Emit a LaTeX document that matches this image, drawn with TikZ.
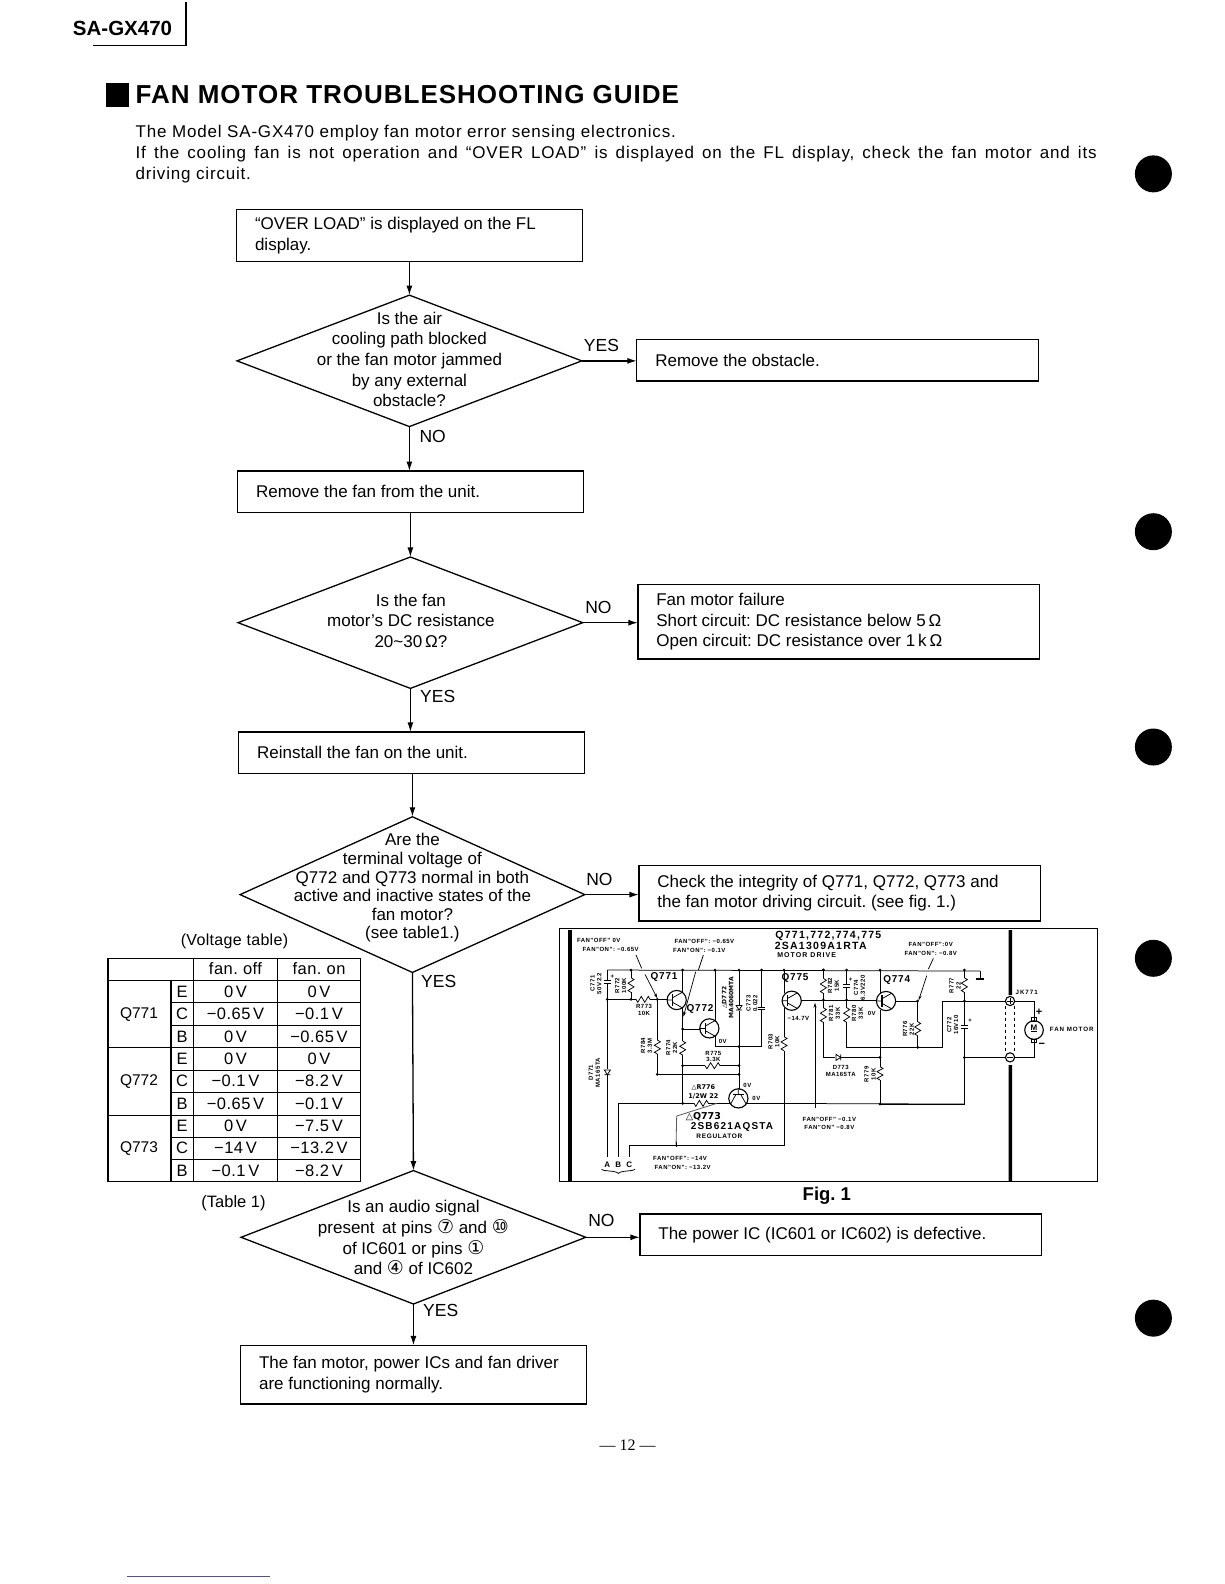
\documentclass[tikz,border=0pt]{standalone}
\usepackage{fontspec}
\setmainfont{Liberation Sans}
\newfontfamily\djv{DejaVu Sans}
\newfontfamily\srf{Liberation Serif}
\usetikzlibrary{shapes.geometric,arrows.meta}
\newcount\labn
\def\ksc{1.0108}
\frenchspacing
\newcommand\circd[1]{{\djv\fontsize{19}{20.7}\selectfont #1}}
\tikzset{
 flowbox/.style={draw,line width=1.3pt,rectangle,inner ysep=0pt,inner xsep=18.5pt,outer sep=0pt,align=left,anchor=north west,font=\fontsize{17}{20.7}\selectfont},
 flowdia/.style={draw,line width=1.3pt,diamond,aspect=2,inner sep=0pt,outer sep=0pt},
 flowtxt/.style={align=center,inner sep=0pt,font=\fontsize{17}{20.7}\selectfont},
 flowarr/.style={line width=1.3pt,-{Latex[length=9.5pt,width=6pt]}},
 lbl/.style={inner sep=0pt,font=\fontsize{17.5}{20}\selectfont},
 cell/.style={inner sep=0pt,font=\addfontfeature{LetterSpace=3}\fontsize{16.5}{20}\selectfont},
 tline/.style={line width=1.1pt},
 wire/.style={line width=.75pt},
 sk/.style={inner sep=0pt,align=center,font=\bfseries\addfontfeature{LetterSpace=8}\fontsize{6}{6.8}\selectfont},
 skb/.style={inner sep=0pt,align=center,font=\bfseries\addfontfeature{LetterSpace=8}\fontsize{10}{11}\selectfont},
 ptr/.style={line width=.7pt,-{Stealth[length=5pt,width=3pt]}},
}
\newcommand\FBox[6]{%
 \pgfmathsetmacro\mw{(#4-#2)*\ksc}\pgfmathsetmacro\mh{(#5-#3)*\ksc}\pgfmathsetmacro\tw{(#4-#2)*\ksc-37}%
 \node[flowbox,minimum width=\mw pt,minimum height=\mh pt,text width=\tw pt] (#1) at (#2,#3) {\spaceskip=4.75pt\relax #6};}
\newcommand\FDia[5]{%
 \pgfmathsetmacro\mw{#4*\ksc}\pgfmathsetmacro\mh{#5*\ksc}%
 \node[flowdia,minimum width=\mw pt,minimum height=\mh pt] (#1) at (#2,#3) {};}
\newcommand\sklab[4][sk]{\global\advance\labn by 1 \node[#1] (lab\the\labn) at (#2,#3) {#4};}
\newcommand\resV[3]{\pgfmathsetmacro\dd{(#3-#2)/8}\fill[white] (#1-9,#2) rectangle (#1+9,#3);
 \draw[wire] (#1,#2) -- ++(9,\dd) -- ++(-18,2*\dd) -- ++(18,2*\dd) -- ++(-18,2*\dd) -- ++(9,\dd);}
\newcommand\resH[3]{\pgfmathsetmacro\dd{(#3-#2)/8}\fill[white] (#2,#1-9) rectangle (#3,#1+9);
 \draw[wire] (#2,#1) -- ++(\dd,9) -- ++(2*\dd,-18) -- ++(2*\dd,18) -- ++(2*\dd,-18) -- ++(\dd,9);}
\newcommand\trans[3]{\begin{scope}[shift={(#1,#2)},rotate=#3]
 \fill[white] (0,0) circle (9.3pt);
 \draw[line width=1.1pt] (0,0) circle (9.6pt);
 \draw[line width=1.1pt] (-12,-17) -- (-12,17);
 \draw[wire] (-29,0) -- (-12,0) (-12,-7) -- (18,-24) (-12,7) -- (18,24);
 \end{scope}}
\newcommand\diodeV[2]{\fill[white] (#1-8,#2-9) rectangle (#1+8,#2+9);\draw[wire] (#1-9,#2-7) -- (#1+9,#2-7) -- (#1,#2+7) -- cycle (#1-9,#2+7) -- (#1+9,#2+7);}
\newcommand\dotk[2]{\fill (#1,#2) circle (1.5pt);}
\newcommand\capV[2]{\fill[white] (#1-9,#2-4) rectangle (#1+9,#2+4);\draw[wire] (#1-10,#2-4) -- (#1+10,#2-4) (#1-10,#2+4) -- (#1+10,#2+4);}
\begin{document}
\begin{tikzpicture}[x=\ksc pt,y=-\ksc pt]
\useasboundingbox (0,0) rectangle (1211,1567);
\fill[white] (0,0) rectangle (1211,1567);
% header
\node[inner sep=0pt,anchor=west,font=\bfseries\fontsize{20.5}{24}\selectfont] (model) at (72,28) {SA-GX470};
\coordinate (hA) at (92,45); \coordinate (hB) at (184,45); \coordinate (hC) at (184,2);
\draw[line width=1.2pt] (hA) -- (hB) -- (hC);
\fill (105,82) rectangle (128,106);
\node[inner sep=0pt,anchor=west,font=\bfseries\addfontfeature{LetterSpace=3.8}\fontsize{26}{30}\selectfont] (title) at (134,94) {FAN MOTOR TROUBLESHOOTING GUIDE};
\node[inner sep=0pt,anchor=west,font=\addfontfeature{LetterSpace=4.8}\fontsize{17}{20}\selectfont] (p1) at (134,132) {The Model SA-GX470 employ fan motor error sensing electronics.};
\node[inner sep=0pt,anchor=west,font=\addfontfeature{LetterSpace=4.8}\fontsize{17}{20}\selectfont] (p2) at (134,152.5) {\makebox[961pt][s]{If the cooling fan is not operation and “OVER LOAD” is displayed on the FL display, check the fan motor and its}};
\node[inner sep=0pt,anchor=west,font=\addfontfeature{LetterSpace=4.8}\fontsize{17}{20}\selectfont] (p3) at (134,173) {driving circuit.};
\foreach \yy in {172,526,739,948,1304}{\fill (1141,\yy) circle (18.5pt);}
% flow
\FBox{b1}{234}{207}{576}{259}{“OVER LOAD” is displayed on the FL\\display.}
\FDia{d1}{405}{357}{341}{130}
\node[flowtxt] (d1t) at (405,355.5) {Is the air\\cooling path blocked\\or the fan motor jammed\\by any external\\obstacle?};
\FBox{b2}{630}{336}{1027}{377}{Remove the obstacle.}
\FBox{b3}{235}{466}{577}{507}{Remove the fan from the unit.}
\FDia{d2}{406}{616}{341}{130}
\node[flowtxt] (d2t) at (406.5,614) {Is the fan\\motor's DC resistance\\20\textasciitilde30\,Ω?};
\FBox{b4}{631}{578}{1028}{652}{Fan motor failure\\Short circuit: DC resistance below 5\,Ω\\Open circuit: DC resistance over 1\,k\,Ω}
\FBox{b5}{236}{724}{578}{765}{Reinstall the fan on the unit.}
\FDia{d3}{408}{885}{341}{154}
\node[flowtxt,font=\fontsize{17}{18.6}\selectfont] (d3t) at (408,878.5) {Are the\\terminal voltage of\\Q772 and Q773 normal in both\\active and inactive states of the\\fan motor?\\(see table1.)};
\FBox{b6}{632}{856}{1029}{911}{Check the integrity of Q771, Q772, Q773 and\\the fan motor driving circuit. (see fig. 1.)}
\FDia{d4}{409}{1224}{341}{132}
\node[flowtxt] (d4t) at (409,1224.5) {Is an audio signal\\present\, at pins \circd{⑦} and \circd{⑩}\\of IC601 or pins \circd{①}\\and \circd{④} of IC602};
\FBox{b7}{633}{1201}{1030}{1242}{The power IC (IC601 or IC602) is defective.}
\FBox{b8}{238}{1331}{580}{1389}{The fan motor, power ICs and fan driver\\are functioning normally.}
\draw[flowarr] (b1.south -| d1.north) -- (d1.north);
\draw[flowarr] (d1.east) -- (b2.west |- d1.east);
\draw[flowarr] (d1.south) -- (d1.south |- b3.north);
\draw[flowarr] (d2.north |- b3.south) -- (d2.north);
\draw[flowarr] (d2.east) -- (b4.west |- d2.east);
\draw[flowarr] (d2.south) -- (d2.south |- b5.north);
\draw[flowarr] (d3.north |- b5.south) -- (d3.north);
\draw[flowarr] (d3.east) -- (b6.west |- d3.east);
\draw[flowarr] (d3.south) -- (d4.north);
\draw[flowarr] (d4.east) -- (b7.west |- d4.east);
\draw[flowarr] (d4.south) -- (d4.south |- b8.north);
\node[lbl] (l1) at (595,342) {YES};
\node[lbl] (l2) at (428,432) {NO};
\node[lbl] (l3) at (592,601) {NO};
\node[lbl] (l4) at (433,689) {YES};
\node[lbl] (l5) at (593,870) {NO};
\node[lbl] (l6) at (434,971) {YES};
\node[lbl] (l7) at (595,1207) {NO};
\node[lbl] (l8) at (436,1296) {YES};
\node[cell,font=\addfontfeature{LetterSpace=2}\fontsize{16}{20}\selectfont] (vt) at (232,931) {(Voltage table)};
\node[cell,font=\fontsize{16.5}{20}\selectfont] (tt) at (231,1190) {(Table 1)};
\node[inner sep=0pt,font=\bfseries\fontsize{18.5}{22}\selectfont] (figc) at (818,1182.5) {Fig. 1};
\node[inner sep=0pt,font=\srf\fontsize{16}{20}\selectfont] (pg) at (621,1430) {— 12 —};
\fill[blue!55!black!70] (126,1559.5) rectangle (267,1560.5);
% table, real pixels
\begin{scope}[x=1pt,y=-1pt]
\foreach \yy in {958,980.3,1047.3,1115,1181.7}{\draw[tline] (108,\yy) -- (360.5,\yy);}
\foreach \yy in {1002.7,1025.3,1070,1092.3,1137,1159.3}{\draw[tline] (171,\yy) -- (360.5,\yy);}
\draw[tline] (108,958) -- (108,1181.7) (171,980.3) -- (171,1181.7) (193.5,958) -- (193.5,1181.7) (277.5,958) -- (277.5,1181.7) (360.5,958) -- (360.5,1181.7);
\node[cell] (c0a) at (235.5,969) {fan. off};
\node[cell] (c0b) at (319,969) {fan. on};
\node[cell,font=\fontsize{15.5}{20}\selectfont] (q1) at (139,1014.5) {Q771};
\node[cell,font=\fontsize{15.5}{20}\selectfont] (q2) at (139,1081.5) {Q772};
\node[cell,font=\fontsize{15.5}{20}\selectfont] (q3) at (139,1148.5) {Q773};
\foreach \nm/\yy/\ee/\aa/\bb in {r1/991.5/E/0\,V/0\,V,r2/1014/C/−0.65\,V/−0.1\,V,r3/1036.3/B/0\,V/−0.65\,V,r4/1058.6/E/0\,V/0\,V,r5/1081/C/−0.1\,V/−8.2\,V,r6/1103.6/B/−0.65\,V/−0.1\,V,r7/1126/E/0\,V/−7.5\,V,r8/1148/C/−14\,V/−13.2\,V,r9/1170.5/B/−0.1\,V/−8.2\,V}{
 \node[cell] (\nm e) at (182,\yy) {\ee};
 \node[cell] (\nm a) at (235.5,\yy) {\aa};
 \node[cell] (\nm b) at (319,\yy) {\bb};
}
% schematic: 3x zoom coordinates, left part
\begin{scope}[x=.33333pt,y=-.33333pt,shift={(1650,2745)}]
\draw[line width=1pt] (28,798) -- (28,40) -- (1643,40) -- (1643,798) -- cycle;
\fill (54,45) rectangle (66,798);
\fill (1376,45) rectangle (1386,240) (1376,450) rectangle (1386,798);
% rails
\draw[wire] (172,165) -- (1290,168);
\draw[wire] (172,165) -- (172,725);
\draw[wire] (172,253) -- (352,253);
\draw[wire] (243,165) -- (243,253);
\draw[wire] (398,165) -- (398,235) (398,275) -- (398,565);
\draw[wire] (398,342) -- (450,342);
\draw[wire] (495,165) -- (495,320) (495,360) -- (495,395) -- (635,395) -- (635,165);
\draw[wire] (567,165) -- (567,530);
\draw[wire] (322,253) -- (322,478) -- (567,478);
\draw[wire] (398,452) -- (567,452);
\draw[line width=1.3pt] (205,725) -- (205,565) -- (400,565);
\draw[wire] (400,565) -- (540,565);
\draw[wire] (590,565) -- (1243,567) -- (1243,258);
\draw[line width=.8pt,gray!70!black] (500,565) -- (380,603) -- (378,692);
\draw[wire] (238,725) -- (238,692) -- (702,692) -- (702,280);
\draw[wire] (702,165) -- (702,235);
\draw[wire] (755,257) -- (890,257);
\draw[wire] (820,165) -- (820,427) -- (990,427);
% components
\capV{172}{200}\sklab{187}{186}{+}
\resV{243}{188}{232}
\resH{253}{258}{300}
\resV{322}{375}{417}
\resV{398}{378}{420}
\resH{452}{465}{510}
\resH{565}{432}{475}
\resV{702}{365}{407}
\diodeV{172}{472}
\diodeV{567}{278}
\capV{635}{280}
\trans{380}{255}{0}
\trans{478}{340}{0}
\trans{725}{257}{0}
\trans{565}{550}{-90}
\foreach \a/\b in {172/253,243/165,243/253,322/253,398/165,495/165,567/165,635/165,702/165,820/165,398/342,567/395,398/452,567/452,567/478,322/478,398/565}{\dotk{\a}{\b}}
% pointers
\draw[wire] (258,120) -- (275,160);
\draw[ptr] (285,178) -- (322,250);
\draw[wire] (460,120) -- (445,165);
\draw[ptr] (437,170) -- (400,305);
\draw[ptr] (795,580) -- (795,263);
\draw[wire] (378,680) -- (378,695);
% labels
\sklab{146}{76}{FAN"OFF" 0V}
\sklab{182}{104}{FAN"ON": −0.65V}
\sklab{463}{78}{FAN"OFF": −0.65V}
\sklab{448}{105}{FAN"ON": −0.1V}
\sklab[skb,font=\bfseries\addfontfeature{LetterSpace=12}\fontsize{10.5}{12}\selectfont]{835}{62}{Q771,772,774,775}
\sklab[skb,font=\bfseries\addfontfeature{LetterSpace=12}\fontsize{10.5}{12}\selectfont]{812}{93}{2SA1309A1RTA}
\sklab[sk,font=\bfseries\addfontfeature{LetterSpace=15}\fontsize{7}{8}\selectfont]{770}{121}{MOTOR DRIVE}
\sklab[skb]{342}{187}{Q771}
\sklab[skb]{450}{281}{Q772}
\sklab[skb]{735}{190}{Q775}
\sklab[sk,rotate=90]{138}{205}{C771\\50V2.2}
\sklab[sk,rotate=90]{212}{212}{R772\\100K}
\sklab[sk]{282}{285}{R773\\10K}
\sklab[sk,rotate=90]{289}{392}{R784\\3.3M}
\sklab[sk,rotate=90]{365}{398}{R774\\22K}
\sklab[sk,rotate=90]{133}{473}{D771\\MA165TA}
\sklab[sk,rotate=90,font=\djv\bfseries\fontsize{6}{6.8}\selectfont]{533}{248}{△D772\\MA4060MTA}
\sklab[sk,rotate=90]{606}{265}{C773\\0.022}
\sklab[sk]{490}{424}{R775\\3.3K}
\sklab[sk]{518}{380}{0V}
\sklab[sk,rotate=90]{672}{380}{R703\\10K}
\sklab[sk]{745}{310}{−14.7V}
\sklab[sk]{592}{511}{0V}
\sklab[sk]{619}{551}{0V}
\sklab[sk,font=\djv\bfseries\fontsize{6.5}{9}\selectfont]{460}{530}{△R776\\1/2W 22}
\sklab[skb,font=\djv\bfseries\fontsize{9.5}{10}\selectfont]{460}{605}{△Q773}
\sklab[skb,font=\bfseries\addfontfeature{LetterSpace=12}\fontsize{10}{11}\selectfont]{546}{637}{2SB621AQSTA}
\sklab[sk,font=\bfseries\addfontfeature{LetterSpace=10}\fontsize{6.5}{8}\selectfont]{508}{665}{REGULATOR}
\sklab[sk]{390}{730}{FAN"OFF": −14V}
\sklab[sk]{398}{758}{FAN"ON": −13.2V}
\sklab[sk,font=\bfseries\fontsize{8}{9}\selectfont]{172}{748}{A}
\sklab[sk,font=\bfseries\fontsize{8}{9}\selectfont]{205}{748}{B}
\sklab[sk,font=\bfseries\fontsize{8}{9}\selectfont]{238}{748}{C}
\draw[wire] (155,762) .. controls (157,770) and (195,765) .. (205,775) .. controls (215,765) and (250,770) .. (255,762);
\sklab{838}{612}{FAN"OFF" −0.1V}
\sklab{838}{638}{FAN"ON" −0.8V}
\end{scope}
% schematic: right part
\begin{scope}[x=.33333pt,y=-.33333pt,shift={(2400,2745)}]
\draw[wire] (140,165) -- (140,397) -- (427,397) -- (427,258) -- (618,258);
\draw[wire] (70,255) -- (228,255);
\draw[wire] (240,165) -- (240,235) (240,285) -- (240,567);
\draw[wire] (70,427) -- (240,427);
\draw[wire] (285,258) -- (353,258) -- (353,397);
\draw[wire] (493,165) -- (493,567) -- (240,567);
\draw[wire] (493,427) -- (618,427);
\draw[wire] (540,168) -- (540,190);
\draw[line width=1.1pt] (527,192) -- (552,192);
\resV{70}{190}{235}
\resV{70}{278}{322}
\resV{140}{278}{322}
\capV{140}{212}\sklab{152}{195}{+}
\resV{240}{455}{495}
\resV{353}{320}{362}
\resV{493}{188}{232}
\capV{493}{335}\sklab{510}{318}{+}
\fill[white] (106,418) rectangle (124,436);
\draw[wire] (108,418) -- (108,436) -- (122,427) -- cycle (122,418) -- (122,436);
\trans{258}{258}{0}
\foreach \a/\b in {70/255,140/165,70/165,240/165,493/165,353/258,353/397,240/427,240/567,493/258,493/427,140/255}{\dotk{\a}{\b}}
\draw[wire] (400,130) -- (385,162);
\draw[ptr] (380,182) -- (356,256);
\draw[wire,dashed] (615,272) -- (615,412) (642,272) -- (642,412);
\draw[line width=1.1pt] (630,258) circle (4.6pt) (630,427) circle (4.6pt);
\draw[wire] (622,258) -- (638,258) (630,250) -- (630,266) (622,427) -- (638,427);
\draw[wire] (644,258) -- (702,258) -- (702,318);
\draw[wire] (702,372) -- (702,427) -- (644,427);
\draw[line width=1.1pt] (702,345) circle (9.3pt);
\draw[line width=.9pt] (695,308) rectangle (709,318) (695,372) rectangle (709,382);
\sklab[sk,font=\bfseries\fontsize{8}{9}\selectfont]{702}{340}{\underline{M}}
\sklab[sk,font=\bfseries\fontsize{11}{12}\selectfont]{717}{293}{+}
\sklab[sk,font=\bfseries\fontsize{11}{12}\selectfont]{725}{390}{−}
\sklab[sk,font=\bfseries\addfontfeature{LetterSpace=15}\fontsize{6.2}{8}\selectfont]{815}{342}{FAN MOTOR}
\sklab[sk,font=\bfseries\addfontfeature{LetterSpace=15}\fontsize{6.2}{8}\selectfont]{680}{233}{JK771}
\sklab[skb]{290}{195}{Q774}
\sklab[sk,rotate=90]{100}{212}{R782\\15K}
\sklab[sk,rotate=90]{103}{295}{R781\\33K}
\sklab[sk,rotate=90]{178}{218}{C774\\6.3V220}
\sklab[sk,rotate=90]{172}{295}{R780\\33K}
\sklab[sk]{215}{295}{0V}
\sklab[sk,rotate=90]{325}{342}{R776\\22K}
\sklab[sk,rotate=90]{465}{212}{R777\\22}
\sklab[sk,rotate=90]{458}{330}{C772\\16V10}
\sklab[sk,rotate=90]{210}{478}{R779\\10K}
\sklab[sk]{122}{467}{D773\\MA165TA}
\sklab{392}{88}{FAN"OFF":0V}
\sklab{392}{114}{FAN"ON": −0.8V}
\end{scope}
\end{scope}
\end{tikzpicture}
\end{document}
